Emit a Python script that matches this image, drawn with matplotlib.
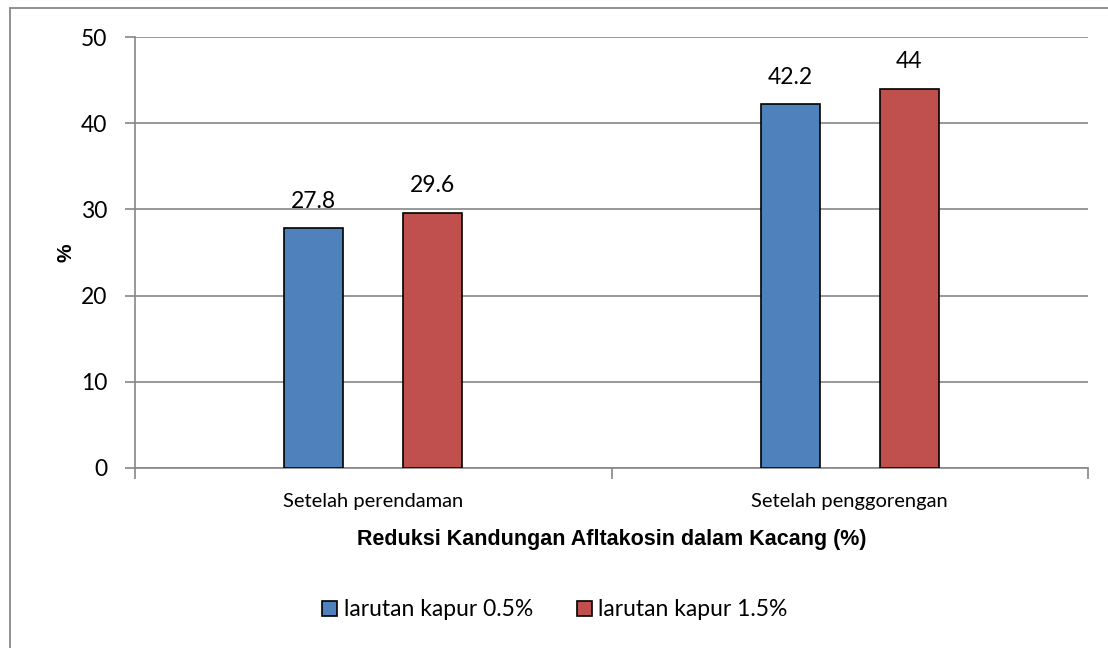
import matplotlib
matplotlib.use('Agg')
import matplotlib.pyplot as plt
from matplotlib.patches import Rectangle
import numpy as np

categories = ['Setelah perendaman', 'Setelah penggorengan']
kapur_05 = [27.8, 42.2]
kapur_15 = [29.6, 44]
series_names = ['larutan kapur 0.5%', 'larutan kapur 1.5%']
colors = ['#4F81BD', '#C0504D']
yticks = [0, 10, 20, 30, 40, 50]

W, H = 1108, 648
fig = plt.figure(figsize=(W / 100, H / 100), dpi=100)
ax = fig.add_axes([135 / W, 1 - 468 / H, (1088 - 135) / W, (468 - 37) / H])

# outer chart border (cropped on right and bottom)
fig.patches.append(Rectangle((10 / W, -0.1), 1.2, 1.1 - 8 / H, transform=fig.transFigure,
                             fill=False, edgecolor='#888888', linewidth=1.3))

tick_font = 'Lato'
x = np.arange(len(categories))
width = 0.124
off = 0.125
for vals, c, name, d in zip([kapur_05, kapur_15], colors, series_names, [-off, off]):
    bars = ax.bar(x + d, vals, width, color=c, edgecolor='black', linewidth=1.2,
                  label=name, zorder=3)
    for b, v in zip(bars, vals):
        ax.text(b.get_x() + b.get_width() / 2, v + 1.9, f'{v:g}', ha='center', va='bottom',
                fontsize=16.5, family=tick_font)

ax.set_xlim(-0.5, 1.5)
ax.set_ylim(0, 50)
ax.set_yticks(yticks)
ax.set_yticklabels([str(t) for t in yticks], fontsize=16.5, family=tick_font)
ax.yaxis.grid(True, color='#868686', linewidth=1.2, zorder=0)
ax.set_axisbelow(True)

ax.set_xticks(x)
ax.set_xticklabels(categories, fontsize=14.5, family=tick_font)
ax.tick_params(axis='x', length=0, pad=18)
ax.set_xticks([-0.5, 0.5, 1.5], minor=True)
ax.tick_params(axis='x', which='minor', length=8, color='#868686', width=1.2, direction='out')
ax.tick_params(axis='y', length=7, color='#868686', width=1.2, direction='out', pad=13)

for s in ['top', 'right']:
    ax.spines[s].set_visible(False)
for s in ['left', 'bottom']:
    ax.spines[s].set_color('#868686')
    ax.spines[s].set_linewidth(1.2)

ax.set_ylabel('%', fontsize=15, fontweight='bold', family='Liberation Sans', labelpad=4)
ax.set_xlabel('Reduksi Kandungan Afltakosin dalam Kacang (%)', fontsize=15.5,
              fontweight='bold', family='Liberation Sans', labelpad=14)

leg = ax.legend(loc='center', bbox_to_anchor=(555 / W, 1 - 610 / H),
                bbox_transform=fig.transFigure, ncol=2, frameon=False,
                prop={'family': tick_font, 'size': 16.5}, handlelength=0.65,
                handleheight=0.65, handletextpad=0.3, columnspacing=1.9)

fig.savefig('out.png', dpi=100)
